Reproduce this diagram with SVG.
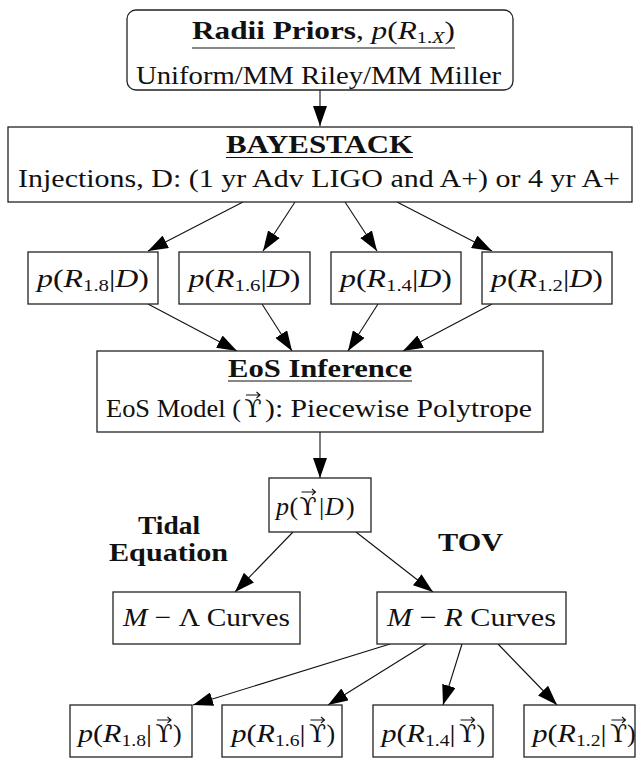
<svg xmlns="http://www.w3.org/2000/svg" width="640" height="758" viewBox="0 0 640 758">
<style>
text{font-family:"Liberation Serif","Times New Roman",serif;font-size:26px;fill:#111;}
.b{font-weight:bold;}
.i{font-style:italic;}
.box{fill:#fff;stroke:#222;stroke-width:1.3;}
.ul{stroke:#111;stroke-width:1.1;}
.c line{stroke:#111;stroke-width:1.1;marker-end:url(#ah);}
.up{font-family:"DejaVu Serif",serif;font-size:25px;}
.vec{fill:none;stroke:#111;stroke-width:1.1;}
</style>
<defs>
<marker id="ah" markerUnits="userSpaceOnUse" viewBox="0 0 20 14" refX="20" refY="7" markerWidth="20" markerHeight="14" orient="auto">
<path d="M0,0 L20,7 L0,14 z" fill="#000"/>
</marker>
</defs>

<g id="connectors" class="c">
<line x1="320" y1="90" x2="320" y2="126"/>
<line x1="243" y1="202" x2="148" y2="251"/>
<line x1="295" y1="202" x2="263" y2="251"/>
<line x1="345" y1="202" x2="377" y2="251"/>
<line x1="397" y1="202" x2="492" y2="251"/>
<line x1="148" y1="304" x2="237" y2="351"/>
<line x1="262" y1="304" x2="292" y2="351"/>
<line x1="378" y1="304" x2="348" y2="351"/>
<line x1="492" y1="304" x2="403" y2="351"/>
<line x1="320" y1="432" x2="320" y2="478"/>
<line x1="293" y1="532" x2="235" y2="592"/>
<line x1="356" y1="532" x2="433" y2="592"/>
<line x1="390" y1="644" x2="193" y2="705"/>
<line x1="426" y1="644" x2="328" y2="705"/>
<line x1="462" y1="644" x2="443" y2="705"/>
<line x1="498" y1="644" x2="557" y2="705"/>
</g>

<g id="priors">
<rect class="box" x="127" y="10" width="386" height="80" rx="9"/>
<text x="323.5" y="39" text-anchor="middle" font-size="24" textLength="263" lengthAdjust="spacingAndGlyphs"><tspan class="b">Radii Priors</tspan>, <tspan class="i">p</tspan>(<tspan class="i">R</tspan><tspan font-size="17" dy="4">1.<tspan class="i">X</tspan></tspan><tspan dy="-4">)</tspan></text>
<line class="ul" x1="192" y1="48" x2="455" y2="48"/>
<text x="318.5" y="84" text-anchor="middle" textLength="365" lengthAdjust="spacingAndGlyphs">Uniform/MM Riley/MM Miller</text>
</g>

<g id="bayestack">
<rect class="box" x="8" y="127" width="624" height="75"/>
<text class="b" x="319.5" y="153" text-anchor="middle" font-size="26" textLength="187" lengthAdjust="spacingAndGlyphs">BAYESTACK</text>
<line class="ul" x1="226" y1="157.5" x2="413" y2="157.5"/>
<text x="319" y="187" text-anchor="middle" textLength="602" lengthAdjust="spacingAndGlyphs">Injections, D: (1 yr Adv LIGO and A+) or 4 yr A+</text>
</g>

<g id="pd18">
<rect class="box" x="28" y="252" width="130" height="52"/>
<text x="93" y="287" text-anchor="middle" textLength="112" lengthAdjust="spacingAndGlyphs"><tspan class="i">p</tspan>(<tspan class="i">R</tspan><tspan font-size="17" dy="4">1.8</tspan><tspan dy="-4">|</tspan><tspan class="i">D</tspan>)</text>
</g>
<g id="pd16">
<rect class="box" x="179" y="252" width="131" height="52"/>
<text x="244.5" y="287" text-anchor="middle" textLength="112" lengthAdjust="spacingAndGlyphs"><tspan class="i">p</tspan>(<tspan class="i">R</tspan><tspan font-size="17" dy="4">1.6</tspan><tspan dy="-4">|</tspan><tspan class="i">D</tspan>)</text>
</g>
<g id="pd14">
<rect class="box" x="331" y="252" width="130" height="52"/>
<text x="396" y="287" text-anchor="middle" textLength="112" lengthAdjust="spacingAndGlyphs"><tspan class="i">p</tspan>(<tspan class="i">R</tspan><tspan font-size="17" dy="4">1.4</tspan><tspan dy="-4">|</tspan><tspan class="i">D</tspan>)</text>
</g>
<g id="pd12">
<rect class="box" x="482" y="252" width="130" height="52"/>
<text x="547" y="287" text-anchor="middle" textLength="112" lengthAdjust="spacingAndGlyphs"><tspan class="i">p</tspan>(<tspan class="i">R</tspan><tspan font-size="17" dy="4">1.2</tspan><tspan dy="-4">|</tspan><tspan class="i">D</tspan>)</text>
</g>

<g id="eos">
<rect class="box" x="97" y="351" width="446" height="81"/>
<text class="b" x="320" y="377" text-anchor="middle" textLength="184" lengthAdjust="spacingAndGlyphs">EoS Inference</text>
<line class="ul" x1="228" y1="381" x2="412" y2="381"/>
<text x="106" y="417" textLength="135" lengthAdjust="spacingAndGlyphs">EoS Model (</text>
<text class="up" x="253" y="417" text-anchor="middle">ϒ</text>
<path class="vec" d="M246,395 H260 M256.5,392 L260,395 L256.5,398"/>
<text x="265" y="417" textLength="267" lengthAdjust="spacingAndGlyphs">): Piecewise Polytrope</text>
</g>

<g id="pupsilon">
<rect class="box" x="269" y="478" width="102" height="54"/>
<text y="515"><tspan class="i" x="276">p</tspan><tspan x="289.5">(</tspan><tspan class="up" x="299.5" font-size="23">ϒ</tspan><tspan x="319">|</tspan><tspan class="i" x="325">D</tspan><tspan x="346">)</tspan></text>
<path class="vec" d="M301.5,492 H315.5 M312,489 L315.5,492 L312,495"/>
</g>

<g id="label-tidal">
<text class="b" x="169" y="534" text-anchor="middle" font-size="24" textLength="62" lengthAdjust="spacingAndGlyphs">Tidal</text>
<text class="b" x="168.5" y="561" text-anchor="middle" font-size="24" textLength="119" lengthAdjust="spacingAndGlyphs">Equation</text>
</g>
<g id="label-tov">
<text class="b" x="470.5" y="551" text-anchor="middle" font-size="24" textLength="65" lengthAdjust="spacingAndGlyphs">TOV</text>
</g>

<g id="mlambda">
<rect class="box" x="113" y="592" width="187" height="52"/>
<text x="206.5" y="625.5" text-anchor="middle" textLength="167" lengthAdjust="spacingAndGlyphs"><tspan class="i">M</tspan> − Λ Curves</text>
</g>
<g id="mr">
<rect class="box" x="377" y="592" width="189" height="52"/>
<text x="471.5" y="625.5" text-anchor="middle" textLength="169" lengthAdjust="spacingAndGlyphs"><tspan class="i">M</tspan> − <tspan class="i">R</tspan> Curves</text>
</g>

<g id="pu18">
<rect class="box" x="70" y="705" width="122" height="52"/>
<text x="78" y="742" textLength="74" lengthAdjust="spacingAndGlyphs"><tspan class="i">p</tspan>(<tspan class="i">R</tspan><tspan font-size="17" dy="4">1.8</tspan><tspan dy="-4">|</tspan></text>
<text class="up" x="164" y="742" text-anchor="middle">ϒ</text>
<path class="vec" d="M157,720 H171 M167.5,717 L171,720 L167.5,723"/>
<text x="173" y="742">)</text>
</g>
<g id="pu16">
<rect class="box" x="222" y="705" width="120" height="52"/>
<text x="231.5" y="742" textLength="74" lengthAdjust="spacingAndGlyphs"><tspan class="i">p</tspan>(<tspan class="i">R</tspan><tspan font-size="17" dy="4">1.6</tspan><tspan dy="-4">|</tspan></text>
<text class="up" x="317.5" y="742" text-anchor="middle">ϒ</text>
<path class="vec" d="M310.5,720 H324.5 M321,717 L324.5,720 L321,723"/>
<text x="326.5" y="742">)</text>
</g>
<g id="pu14">
<rect class="box" x="373" y="705" width="120" height="52"/>
<text x="381.5" y="742" textLength="74" lengthAdjust="spacingAndGlyphs"><tspan class="i">p</tspan>(<tspan class="i">R</tspan><tspan font-size="17" dy="4">1.4</tspan><tspan dy="-4">|</tspan></text>
<text class="up" x="467.5" y="742" text-anchor="middle">ϒ</text>
<path class="vec" d="M460.5,720 H474.5 M471,717 L474.5,720 L471,723"/>
<text x="476.5" y="742">)</text>
</g>
<g id="pu12">
<rect class="box" x="524" y="705" width="111" height="52"/>
<text x="532.5" y="742" textLength="74" lengthAdjust="spacingAndGlyphs"><tspan class="i">p</tspan>(<tspan class="i">R</tspan><tspan font-size="17" dy="4">1.2</tspan><tspan dy="-4">|</tspan></text>
<text class="up" x="618.5" y="742" text-anchor="middle">ϒ</text>
<path class="vec" d="M611.5,720 H625.5 M622,717 L625.5,720 L622,723"/>
<text x="627" y="742">)</text>
</g>
</svg>
